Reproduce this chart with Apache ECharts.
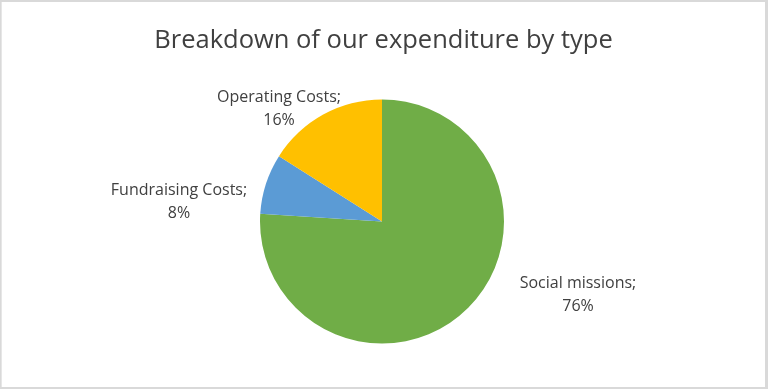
<!DOCTYPE html>
<html>
<head>
<meta charset="utf-8">
<script src="https://cdn.jsdelivr.net/npm/echarts@6/dist/echarts.min.js"></script>
<style>
  html, body { margin: 0; padding: 0; background: #d9d9d9; width: 768px; height: 389px; overflow: hidden; }
  #chart { position: absolute; left: 1px; top: 2px; width: 764px; height: 385px; background: #ffffff; border-left: 1px solid #e6e6e6; box-sizing: border-box; }
</style>
</head>
<body>
<div id="chart"></div>
<script>
const titleText = 'Breakdown of our expenditure by type';
const categories = ['Social missions', 'Fundraising Costs', 'Operating Costs'];
const values = [76, 8, 16];
const colors = ['#70ad47', '#5b9bd5', '#ffc000'];
// label centre positions in chart pixel space (layout, not data)
const labelPos = [[576, 293], [177, 200], [277, 107]];

const chart = echarts.init(document.getElementById('chart'), null, { renderer: 'canvas' });
const fontFamily = '"Open Sans", "Liberation Sans", sans-serif';
chart.setOption({
  animation: false,
  title: {
    text: titleText,
    left: 'center',
    top: 21,
    textStyle: { fontFamily, fontSize: 25.5, fontWeight: 'normal', color: '#404040' }
  },
  series: [{
    type: 'pie',
    center: [380, 219.5],
    radius: [0, 122],
    startAngle: 90,
    clockwise: true,
    avoidLabelOverlap: false,
    itemStyle: { borderWidth: 0 },
    label: {
      show: true,
      position: 'outside',
      formatter: '{b};\n{d}%',
      align: 'center',
      fontFamily,
      fontSize: 16,
      lineHeight: 23,
      color: '#404040'
    },
    labelLine: { show: false },
    labelLayout: function (params) {
      const p = labelPos[params.dataIndex];
      return { x: p[0], y: p[1], align: 'center', verticalAlign: 'middle' };
    },
    emphasis: { disabled: true },
    data: categories.map((c, i) => ({ name: c, value: values[i], itemStyle: { color: colors[i] } }))
  }]
});
</script>
</body>
</html>
